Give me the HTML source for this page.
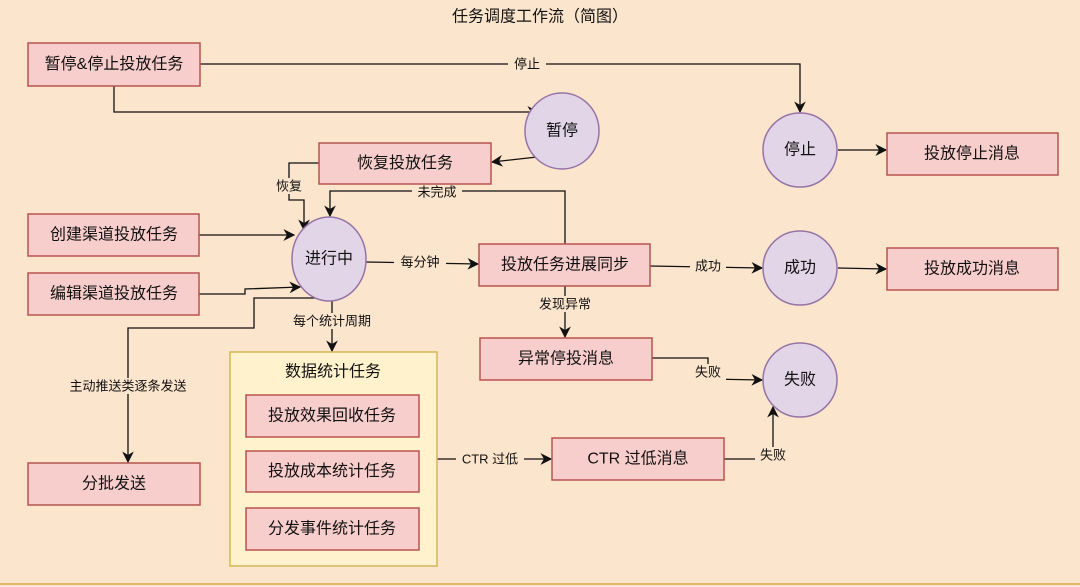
<!DOCTYPE html>
<html><head><meta charset="utf-8"><style>
html,body{margin:0;padding:0;background:#fbe5cc;}
svg{display:block;font-family:"Liberation Sans","Noto Sans CJK SC",sans-serif;}
.b{fill:#f8cecc;stroke:#b85450;stroke-width:1.5}
.c{fill:#e1d5e7;stroke:#9673a6;stroke-width:1.5}
.l{fill:none;stroke:#111;stroke-width:1.3}
.t{font-size:16px;fill:#111;text-anchor:middle;dominant-baseline:central}
.s{font-size:13px;fill:#111;text-anchor:middle;dominant-baseline:central}
.lb{fill:#fbe5cc}
</style></head><body>
<svg width="1080" height="587" viewBox="0 0 1080 587">
<defs><marker id="a" viewBox="0 0 10 10" refX="9" refY="5" markerWidth="9" markerHeight="9" orient="auto"><path d="M0,0 L10,5 L0,10 L3,5 z" fill="#111"/></marker></defs>
<rect width="1080" height="587" fill="#fbe5cc"/>
<line x1="0" y1="584" x2="1080" y2="584" stroke="#e6b36a" stroke-width="2"/>
<text x="540" y="17" class="t">任务调度工作流（简图）</text>

<!-- connectors -->
<polyline class="l" points="200,64 800,64 800,112" marker-end="url(#a)"/>
<rect x="508" y="56" width="38" height="16" class="lb"/><text x="527" y="64" class="s">停止</text>
<polyline class="l" points="114,86 114,112 538,112" marker-end="url(#a)"/>
<polyline class="l" points="537,157 492,162" marker-end="url(#a)"/>
<polyline class="l" points="319,163 289,163 289,200 304,200 304,230" marker-end="url(#a)"/>
<rect x="270" y="178" width="38" height="16" class="lb"/><text x="289" y="186" class="s">恢复</text>
<polyline class="l" points="565,244 565,191 330,191 330,216" marker-end="url(#a)"/>
<rect x="412" y="183" width="50" height="16" class="lb"/><text x="437" y="192" class="s">未完成</text>
<polyline class="l" points="199,235 294,235" marker-end="url(#a)"/>
<polyline class="l" points="199,294 245,294 245,289 300,287" marker-end="url(#a)"/>
<polyline class="l" points="366,262 478,264" marker-end="url(#a)"/>
<rect x="394" y="254" width="52" height="16" class="lb"/><text x="420" y="262" class="s">每分钟</text>
<polyline class="l" points="332,300 332,351" marker-end="url(#a)"/>
<rect x="283" y="313" width="98" height="16" class="lb"/><text x="332" y="321" class="s">每个统计周期</text>
<polyline class="l" points="330,298 254,298 254,328 128,328 128,462" marker-end="url(#a)"/>
<rect x="52" y="378" width="152" height="16" class="lb"/><text x="128" y="386" class="s">主动推送类逐条发送</text>
<polyline class="l" points="650,266 762,268" marker-end="url(#a)"/>
<rect x="690" y="258" width="36" height="16" class="lb"/><text x="708" y="266" class="s">成功</text>
<polyline class="l" points="838,268 886,269" marker-end="url(#a)"/>
<polyline class="l" points="838,150 886,150" marker-end="url(#a)"/>
<polyline class="l" points="565,286 565,337" marker-end="url(#a)"/>
<rect x="530" y="296" width="70" height="16" class="lb"/><text x="565" y="304" class="s">发现异常</text>
<polyline class="l" points="652,358 708,358 708,379 762,380" marker-end="url(#a)"/>
<rect x="690" y="364" width="36" height="16" class="lb"/><text x="708" y="372" class="s">失败</text>
<polyline class="l" points="437,459 551,459" marker-end="url(#a)"/>
<rect x="456" y="451" width="68" height="16" class="lb"/><text x="490" y="459" class="s">CTR 过低</text>
<polyline class="l" points="724,459 773,459 773,407" marker-end="url(#a)"/>
<rect x="755" y="447" width="36" height="16" class="lb"/><text x="773" y="455" class="s">失败</text>

<!-- boxes -->
<rect class="b" x="28" y="43" width="172" height="43"/><text x="114" y="64.5" class="t">暂停&amp;停止投放任务</text>
<rect class="b" x="319" y="143" width="172" height="41"/><text x="405" y="163.5" class="t">恢复投放任务</text>
<rect class="b" x="887" y="133" width="171" height="42"/><text x="972" y="154" class="t">投放停止消息</text>
<rect class="b" x="28" y="214" width="171" height="42"/><text x="114" y="235" class="t">创建渠道投放任务</text>
<rect class="b" x="28" y="273" width="171" height="42"/><text x="114" y="294" class="t">编辑渠道投放任务</text>
<rect class="b" x="479" y="244" width="171" height="42"/><text x="565" y="265" class="t">投放任务进展同步</text>
<rect class="b" x="887" y="248" width="171" height="42"/><text x="972" y="269" class="t">投放成功消息</text>
<rect class="b" x="480" y="338" width="172" height="42"/><text x="566" y="359" class="t">异常停投消息</text>
<rect class="b" x="28" y="463" width="172" height="42"/><text x="114" y="484" class="t">分批发送</text>
<rect class="b" x="552" y="438" width="172" height="42"/><text x="638" y="459" class="t">CTR 过低消息</text>
<rect x="230" y="352" width="207" height="214" fill="#fff2cc" stroke="#d6b656" stroke-width="1.5"/>
<text x="333" y="372" class="t">数据统计任务</text>
<rect class="b" x="246" y="395" width="173" height="42"/><text x="332" y="416" class="t">投放效果回收任务</text>
<rect class="b" x="246" y="451" width="173" height="41"/><text x="332" y="471.5" class="t">投放成本统计任务</text>
<rect class="b" x="246" y="508" width="173" height="42"/><text x="332" y="529" class="t">分发事件统计任务</text>

<!-- circles -->
<ellipse class="c" cx="562" cy="131" rx="37" ry="38"/><text x="562" y="131" class="t">暂停</text>
<ellipse class="c" cx="800" cy="150" rx="37" ry="37"/><text x="800" y="150" class="t">停止</text>
<ellipse class="c" cx="329" cy="259" rx="37" ry="42"/><text x="329" y="259" class="t">进行中</text>
<ellipse class="c" cx="800" cy="268" rx="37" ry="37"/><text x="800" y="268" class="t">成功</text>
<ellipse class="c" cx="800" cy="380" rx="37" ry="37"/><text x="800" y="380" class="t">失败</text>
</svg>
</body></html>
